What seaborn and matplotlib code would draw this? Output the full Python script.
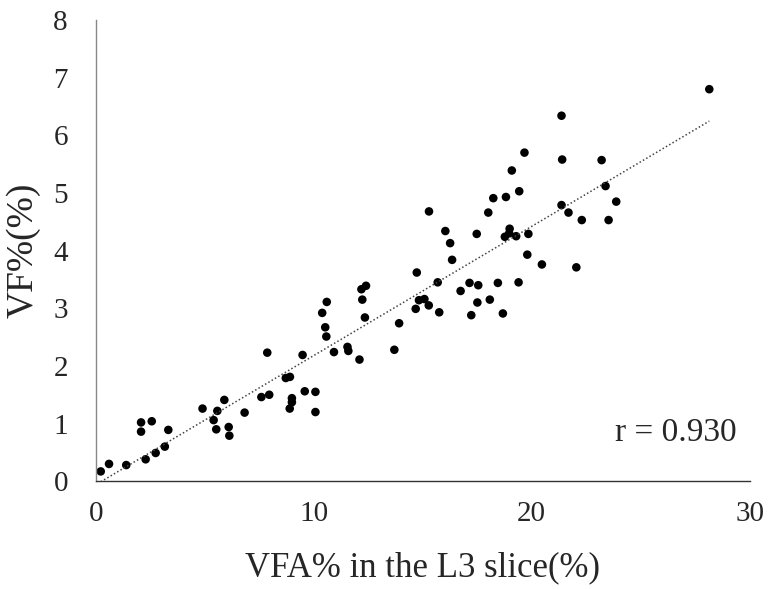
import pandas as pd
import seaborn as sns
import matplotlib.pyplot as plt

# VFA% in the L3 slice vs VF%
vfa = [0.23, 0.61, 1.40, 2.29, 2.75, 3.17, 3.33, 2.08, 2.08, 2.57,
       4.90, 5.58, 5.41, 5.53, 5.90, 6.10, 6.13, 6.83, 7.60, 7.96,
       7.87, 9.49, 8.72, 8.91, 9.00, 9.00, 8.90, 9.59, 10.08, 10.08,
       10.93, 10.39, 10.60, 10.53, 10.58, 11.55, 11.59, 12.10, 12.19, 12.40,
       12.23, 12.35, 13.70, 13.92, 14.73, 14.83, 15.08, 14.68, 15.28, 15.29,
       15.76, 15.69, 16.04, 16.26, 16.35, 16.74, 17.15, 17.55, 17.51, 17.23,
       17.48, 18.01, 18.24, 18.82, 18.08, 18.45, 18.68, 18.77, 18.99, 18.97,
       19.29, 19.09, 19.43, 19.67, 19.40, 19.80, 19.85, 20.47, 21.37, 21.69,
       21.40, 22.30, 22.05, 23.21, 21.37, 23.39, 23.88, 23.53, 28.15]
vf = [0.17, 0.30, 0.28, 0.38, 0.49, 0.60, 0.89, 1.02, 0.86, 1.04,
      1.26, 1.22, 1.06, 0.90, 1.41, 0.94, 0.79, 1.19, 1.46, 1.50,
      2.23, 2.19, 1.79, 1.81, 1.44, 1.37, 1.26, 1.56, 1.55, 1.20,
      2.24, 2.92, 3.11, 2.67, 2.51, 2.33, 2.26, 2.11, 3.33, 3.39,
      3.15, 2.84, 2.28, 2.74, 3.62, 3.14, 3.16, 2.99, 3.05, 4.68,
      2.93, 3.45, 4.34, 4.13, 3.84, 3.30, 3.44, 3.40, 3.10, 2.88,
      4.29, 4.66, 4.91, 4.93, 3.15, 3.44, 2.91, 4.24, 4.38, 4.30,
      4.25, 5.39, 5.03, 5.70, 3.45, 3.93, 4.29, 3.76, 4.79, 4.66,
      5.58, 4.53, 3.71, 5.57, 6.34, 5.12, 4.85, 4.53, 6.80]

x_ticks = [0, 10, 20, 30]
y_ticks = [0, 1, 2, 3, 4, 5, 6, 7, 8]
r_label = "r = 0.930"

df = pd.DataFrame({"VFA": vfa, "VF": vf})

sns.set_style("white")
plt.rcParams['font.family'] = ['Liberation Serif', 'DejaVu Serif']

fig = plt.figure(figsize=(7.72, 5.89), dpi=100)
ax = fig.add_axes([0.124, 0.183, 0.847, 0.783])

sns.regplot(data=df, x="VFA", y="VF", ax=ax, ci=None,
            scatter_kws={"s": 38, "color": "black", "edgecolor": "none", "alpha": 1},
            line_kws={"color": "#444444", "linestyle": (0, (1, 1.5)), "linewidth": 1.1})

ax.set_xlim(0, 30)
ax.set_ylim(0, 8)
ax.set_xticks(x_ticks)
ax.set_yticks(y_ticks)
ax.tick_params(axis="both", length=0, labelsize=21)
ax.tick_params(axis="x", pad=14)
ax.tick_params(axis="y", pad=20)

sns.despine(ax=ax)
ax.spines["left"].set_color("#888888")
ax.spines["bottom"].set_color("#333333")
ax.spines["left"].set_linewidth(1.0)
ax.spines["bottom"].set_linewidth(1.0)

ax.set_xlabel("VFA% in the L3 slice(%)", fontsize=25, labelpad=18)
ax.set_ylabel("VF%(%)", fontsize=27, labelpad=5)
ax.yaxis.set_label_coords(-0.085, 0.5)

ax.text(0.887, 0.106, r_label, transform=ax.transAxes, fontsize=24,
        ha="center", va="center")

fig.savefig("out.png", dpi=100)
